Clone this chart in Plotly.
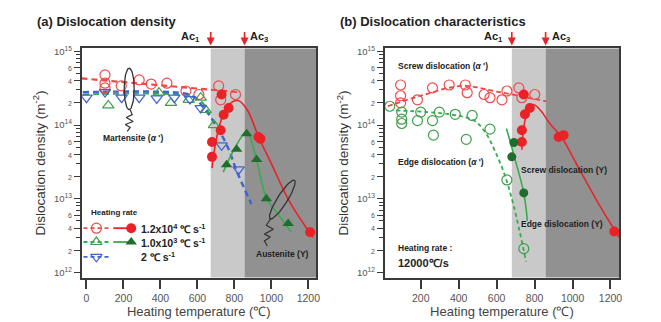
import numpy as np
import plotly.graph_objects as go

W, H = 661, 322

# ---------------- Panel (a): Dislocation density ----------------
a_red_open_T = [100, 100, 100, 188, 285, 350, 435, 538, 608, 715, 726, 806]
a_red_open_rho = [4.8e14, 3.7e14, 3.2e14, 3.4e14, 4.1e14, 3.6e14, 3.7e14, 2.9e14, 2.6e14, 3.4e14, 2.2e14, 2.6e14]
a_red_fill_T = [731, 769, 742, 726, 679, 679, 930, 941, 1210]
a_red_fill_rho = [2.6e14, 1.7e14, 1.38e14, 8.5e13, 5.9e13, 3.7e13, 6.9e13, 6.5e13, 3.5e12]
a_green_open_T = [118, 392, 457, 553, 618, 645, 690]
a_green_open_rho = [1.85e14, 2.75e14, 2.0e14, 2.2e14, 2.35e14, 1.6e14, 1.0e14]
a_green_fill_T = [758, 812, 866, 920, 973, 1091]
a_green_fill_rho = [2.9e13, 4.7e13, 7.6e13, 3.4e13, 1.0e13, 4.6e12]
a_blue_open_T = [0, 100, 190, 285, 380, 475, 560, 618, 731, 823]
a_blue_open_rho = [2.35e14, 2.8e14, 2.35e14, 2.35e14, 2.3e14, 2.35e14, 2.25e14, 1.7e14, 5.3e13, 2.5e13]

# fitted trend lines (control points)
a_red_dash_T = [-27, 820]
a_red_dash_rho = [4.3e14, 2.8e14]
a_green_dash_T = [-20, 550, 620, 690]
a_green_dash_rho = [2.6e14, 2.5e14, 2.1e14, 1.05e14]
a_blue_dash_T = [-20, 500, 570, 645, 715, 769, 812, 892]
a_blue_dash_rho = [2.8e14, 2.75e14, 2.5e14, 1.58e14, 8.7e13, 4.7e13, 2.4e13, 8.5e12]
a_red_solid_T = [679, 700, 730, 770, 820, 870, 930, 1000, 1100, 1225]
a_red_solid_rho = [2.6e13, 6e13, 1.2e14, 1.9e14, 2.15e14, 1.6e14, 7e13, 3e13, 9e12, 3e12]
a_green_solid_T = [740, 760, 805, 850, 872, 900, 925, 975, 1040, 1108]
a_green_solid_rho = [2.3e13, 3e13, 5e13, 7.5e13, 8e13, 5.2e13, 3e13, 1.0e13, 6e12, 3.5e12]

a_Ac1, a_Ac3 = 672, 855

# ---------------- Panel (b): Dislocation characteristics ----------------
b_screw_a_T = [94, 94, 94, 183, 262, 350, 435, 445, 534, 565, 628, 654, 717, 733, 801]
b_screw_a_rho = [3.5e14, 2.5e14, 2.0e14, 2.2e14, 3.2e14, 3.5e14, 3.5e14, 2.75e14, 2.6e14, 2.35e14, 2.2e14, 2.9e14, 3.2e14, 2.35e14, 2.6e14]
b_edge_a_T = [37, 100, 100, 100, 183, 200, 262, 267, 298, 382, 471, 440, 565, 654, 743]
b_edge_a_rho = [1.8e14, 1.5e14, 1.2e14, 1.05e14, 1.15e14, 1.5e14, 1.15e14, 7.3e13, 1.5e14, 1.4e14, 1.35e14, 6.4e13, 8.8e13, 1.8e13, 2.1e12]
b_screw_g_T = [743, 775, 749, 733, 733, 927, 953, 1220]
b_screw_g_rho = [2.6e14, 1.7e14, 1.4e14, 8.5e13, 5.9e13, 6.9e13, 7.3e13, 3.6e12]
b_edge_g_T = [691, 680, 743]
b_edge_g_rho = [5.8e13, 3.7e13, 1.2e13]

b_red_dash_T = [26, 200, 419, 600, 860]
b_red_dash_rho = [1.8e14, 2.5e14, 3.4e14, 2.85e14, 2.1e14]
b_green_dash_T = [70, 350, 480, 540, 590, 640, 690, 755]
b_green_dash_rho = [1.58e14, 1.4e14, 1.15e14, 8e13, 4.5e13, 2.2e13, 8e12, 1.4e12]
b_green_solid_T = [652, 690, 743, 762]
b_green_solid_rho = [9e13, 4e13, 1.2e13, 5e12]
b_red_solid_T = [733, 742, 762, 792, 830, 880, 940, 1040, 1150, 1246]
b_red_solid_rho = [4.6e13, 9e13, 1.5e14, 1.9e14, 1.6e14, 1.05e14, 7e13, 2.4e13, 7.5e12, 3e12]

b_Ac1, b_Ac3 = 680, 858

x_ticks = [0, 200, 400, 600, 800, 1000, 1200]
x_ticks_b = [200, 400, 600, 800, 1000, 1200]

# ---------------- styling ----------------
RED = '#ea2227'
RED_O = '#ee4b4b'
GREEN_O = '#3e9f4a'
GREEN_F = '#1f6e2d'
GREEN_L = '#36ac4d'
BLUE = '#3f63d2'
LGRAY = '#c9c9c9'
DGRAY = '#919191'
FRAME = '#3a3a3a'
TXT = '#222222'
FONT = 'Liberation Sans, Arial, sans-serif'


def px(x):
    return x / W


def py(y):
    return 1 - y / H


fig = go.Figure()


def sc(T, rho, xa, ya, mode='markers', symbol='circle', color=RED, size=9, lw=1.3,
       dash='solid', shape='linear', mcolor=None):
    kw = dict(x=T, y=rho, xaxis=xa, yaxis=ya, mode=mode, showlegend=False, hoverinfo='skip')
    if 'markers' in mode:
        kw['marker'] = dict(symbol=symbol, size=size, color=mcolor or color,
                            line=dict(width=lw, color=mcolor or color))
    if 'lines' in mode:
        kw['line'] = dict(color=color, width=lw, dash=dash, shape=shape, smoothing=1.0)
    fig.add_trace(go.Scatter(**kw))


# Panel (a) lines
sc(a_red_dash_T, a_red_dash_rho, 'x', 'y', mode='lines', color='#f04545', lw=2.2, dash='6px,4px')
sc(a_green_dash_T, a_green_dash_rho, 'x', 'y', mode='lines', color=GREEN_L, lw=2.0, dash='6px,4px', shape='spline')
sc(a_blue_dash_T, a_blue_dash_rho, 'x', 'y', mode='lines', color=BLUE, lw=2.4, dash='6px,4px', shape='spline')
sc(a_red_solid_T, a_red_solid_rho, 'x', 'y', mode='lines', color=RED, lw=1.6, shape='spline')
sc(a_green_solid_T, a_green_solid_rho, 'x', 'y', mode='lines', color=GREEN_L, lw=1.6, shape='spline')
# Panel (a) markers
sc(a_red_open_T, a_red_open_rho, 'x', 'y', symbol='circle-open', color=RED_O, size=10, lw=1.2)
sc(a_green_open_T, a_green_open_rho, 'x', 'y', symbol='triangle-up-open', color=GREEN_O, size=10, lw=1.2)
sc(a_blue_open_T, a_blue_open_rho, 'x', 'y', symbol='triangle-down-open', color=BLUE, size=10, lw=1.2)
sc(a_red_fill_T, a_red_fill_rho, 'x', 'y', symbol='circle', color=RED, size=10, lw=0)
sc(a_green_fill_T, a_green_fill_rho, 'x', 'y', symbol='triangle-up', color=GREEN_F, size=10, lw=0)

# Panel (b) lines
sc(b_red_dash_T, b_red_dash_rho, 'x2', 'y2', mode='lines', color='#f04545', lw=1.8, dash='5px,3px', shape='spline')
sc(b_green_dash_T, b_green_dash_rho, 'x2', 'y2', mode='lines', color=GREEN_L, lw=1.8, dash='4px,3px', shape='spline')
sc(b_green_solid_T, b_green_solid_rho, 'x2', 'y2', mode='lines', color=GREEN_L, lw=1.6, shape='spline')
sc(b_red_solid_T, b_red_solid_rho, 'x2', 'y2', mode='lines', color=RED, lw=1.5, shape='spline')
# Panel (b) markers
sc(b_screw_a_T, b_screw_a_rho, 'x2', 'y2', symbol='circle-open', color=RED_O, size=10, lw=1.2)
sc(b_edge_a_T, b_edge_a_rho, 'x2', 'y2', symbol='circle-open', color=GREEN_O, size=10, lw=1.2)
sc(b_screw_g_T, b_screw_g_rho, 'x2', 'y2', symbol='circle', color=RED, size=10, lw=0)
sc(b_edge_g_T, b_edge_g_rho, 'x2', 'y2', symbol='circle', color=GREEN_F, size=9, lw=0)

# ---------------- decorations on a pixel overlay axis ----------------
def ellipse(cx, cy, rx, ry, ang):
    t = np.linspace(0, 2 * np.pi, 60)
    a = np.deg2rad(ang)
    x = cx + rx * np.cos(t) * np.cos(a) - ry * np.sin(t) * np.sin(a)
    y = cy + rx * np.cos(t) * np.sin(a) + ry * np.sin(t) * np.cos(a)
    return list(x), list(y)


ex, ey = ellipse(130, 86, 5, 21, 0)
sc(ex, ey, 'x3', 'y3', mode='lines', color='#333', lw=1.3)
sc([131, 133, 127, 134, 126, 131, 128], [107, 112, 115, 119, 122, 125, 129], 'x3', 'y3', mode='lines', color='#333', lw=1.2)
ex, ey = ellipse(284, 198, 5, 23, 32)
sc(ex, ey, 'x3', 'y3', mode='lines', color='#333', lw=1.3)
sc([272, 268, 275, 266, 272, 266, 269], [218, 224, 228, 233, 236, 240, 245], 'x3', 'y3', mode='lines', color='#333', lw=1.2)

# legend glyphs (panel a)
leg_rows = [(227, RED_O, RED, 'circle-open', 'circle'),
            (241, GREEN_O, GREEN_F, 'triangle-up-open', 'triangle-up'),
            (256, BLUE, None, 'triangle-down-open', None)]
for yy, co, cf, so, sf in leg_rows:
    lc = co if co != GREEN_O else GREEN_L
    sc([84, 110], [yy, yy], 'x3', 'y3', mode='lines', color=lc, lw=1.8, dash='4px,3px')
    sc([97], [yy], 'x3', 'y3', symbol=so, color=co, size=10, lw=1.2)
    if cf:
        lc2 = RED if cf == RED else GREEN_L
        sc([114, 132], [yy, yy], 'x3', 'y3', mode='lines', color=lc2, lw=1.8)
        sc([132], [yy], 'x3', 'y3', symbol=sf, color=cf, size=10, lw=0)

# ---------------- layout ----------------
ydom = [py(277), py(45)]
ax_common = dict(showline=True, linecolor=FRAME, linewidth=1.5, mirror=True, showgrid=False,
                 zeroline=False, ticks='outside', tickcolor=FRAME, tickwidth=1.5, ticklen=10,
                 tickfont=dict(family=FONT, size=10.5, color='#555'),
                 title=dict(text='Heating temperature (℃)', font=dict(family=FONT, size=13, color='#444'), standoff=4))

def small(s):
    return "<span style='font-size:7px'>%s</span>" % s

ytickvals = []
yticktext = []
minor_vals = []
for d in [12, 13, 14]:
    ytickvals.append(10 ** d)
    yticktext.append('10<sup>%d</sup>' % d)
    for m in [2, 4, 6]:
        ytickvals.append(m * 10 ** d)
        yticktext.append(small(m))
    for m in [3, 5, 7, 8, 9]:
        minor_vals.append(m * 10 ** d)
ytickvals.append(1e15)
yticktext.append('10<sup>15</sup>')

ay_common = dict(type='log', range=[11.93, 15.04], domain=ydom, showline=True, linecolor=FRAME,
                 linewidth=1.5, mirror=True, showgrid=False, zeroline=False, ticks='outside',
                 tickcolor=FRAME, tickwidth=1.2, ticklen=6, tickvals=ytickvals, ticktext=yticktext,
                 tickfont=dict(family=FONT, size=9.5, color='#555'),
                 minor=dict(tickvals=minor_vals, ticks='outside', ticklen=4, tickcolor=FRAME, tickwidth=1),
                 title=dict(text='Dislocation density (m<sup>-2</sup>)', font=dict(family=FONT, size=13.5, color='#333'), standoff=5))

fig.update_layout(
    width=W, height=H, margin=dict(l=0, r=0, t=0, b=0),
    paper_bgcolor='white', plot_bgcolor='rgba(0,0,0,0)',
    xaxis=dict(domain=[px(82), px(318)], range=[-27, 1242], tickvals=x_ticks, anchor='y', **ax_common),
    yaxis=dict(anchor='x', **ay_common),
    xaxis2=dict(domain=[px(387), px(623)], range=[10, 1246], tickvals=x_ticks_b, anchor='y2', **ax_common),
    yaxis2=dict(anchor='x2', **ay_common),
    xaxis3=dict(domain=[0, 1], range=[0, W], visible=False, anchor='y3', fixedrange=True),
    yaxis3=dict(domain=[0, 1], range=[H, 0], visible=False, anchor='x3', fixedrange=True),
)

shapes = []
for xa, ac1, ac3, xmax in [('x', a_Ac1, a_Ac3, 1242), ('x2', b_Ac1, b_Ac3, 1246)]:
    shapes.append(dict(type='rect', xref=xa, yref=xa.replace('x', 'y') + ' domain', x0=ac1, x1=ac3, y0=0, y1=1,
                       fillcolor=LGRAY, line=dict(width=0), layer='below'))
    shapes.append(dict(type='rect', xref=xa, yref=xa.replace('x', 'y') + ' domain', x0=ac3, x1=xmax, y0=0, y1=1,
                       fillcolor=DGRAY, line=dict(width=0), layer='below'))
fig.update_layout(shapes=shapes)

ann = []
def text(x, y, s, size=8.5, bold=True, xanchor='center', color=TXT):
    ann.append(dict(x=px(x), y=py(y), xref='paper', yref='paper', text=('<b>%s</b>' % s) if bold else s,
                    showarrow=False, xanchor=xanchor, yanchor='middle',
                    font=dict(family=FONT, size=size, color=color)))

text(35, 18, '(a) Dislocation density', size=13, xanchor='left')
text(340, 18, '(b) Dislocation characteristics', size=13, xanchor='left')
text(192, 33, 'Ac<sub>1</sub>', size=11)
text(261, 33, 'Ac<sub>3</sub>', size=11)
text(497, 33, 'Ac<sub>1</sub>', size=11)
text(564, 33, 'Ac<sub>3</sub>', size=11)
text(134, 136, "Martensite (<i>α</i> ')", size=8.5)
text(284, 253, 'Austenite (Y)', size=8.5)
text(90, 211, 'Heating rate', size=8, xanchor='left')
text(140, 227, '1.2x10<sup>4</sup> ℃ s<sup>-1</sup>', size=10.5, xanchor='left')
text(140, 241, '1.0x10<sup>3</sup> ℃ s<sup>-1</sup>', size=10.5, xanchor='left')
text(140, 256, '2 ℃ s<sup>-1</sup>', size=10.5, xanchor='left')
text(398, 63, "Screw dislocation (<i>α</i> ')", size=8.5, xanchor='left')
text(398, 160, "Edge dislocation (<i>α</i> ')", size=8.5, xanchor='left')
text(522, 168, 'Screw dislocation (Y)', size=8.5, xanchor='left')
text(522, 223, 'Edge dislocation (Y)', size=8.5, xanchor='left')
text(398, 247, 'Heating rate :', size=8.5, xanchor='left')
text(398, 262, '12000℃/s', size=11, xanchor='left')

for xa, T in [('x', a_Ac1), ('x', a_Ac3), ('x2', b_Ac1), ('x2', b_Ac3)]:
    ann.append(dict(x=T, y=py(42), xref=xa, yref='paper', text='', showarrow=True,
                    ax=0, ay=-15, arrowhead=2, arrowsize=1, arrowwidth=1.6, arrowcolor=RED))
fig.update_layout(annotations=ann)

fig.write_html('out.html')
